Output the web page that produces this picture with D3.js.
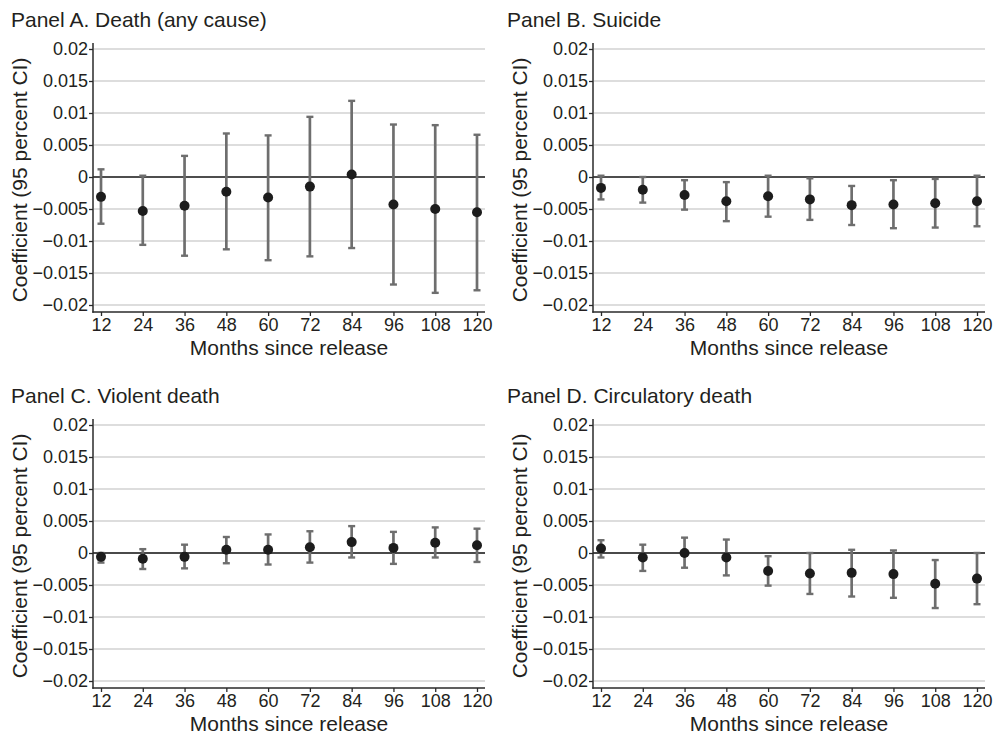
<!DOCTYPE html>
<html><head><meta charset="utf-8">
<script src="https://cdn.jsdelivr.net/npm/d3@7"></script>
<style>
body{margin:0;background:#fff;}
svg{display:block;font-family:"Liberation Sans",Arial,Helvetica,sans-serif;}
</style></head><body>
<svg id="chart" width="993" height="735"></svg>
<script>
const months = [12,24,36,48,60,72,84,96,108,120];
const yTicks = [0.02,0.015,0.01,0.005,0,-0.005,-0.01,-0.015,-0.02];
const yTickLabels = ["0.02","0.015","0.01","0.005","0","\u22120.005","\u22120.01","\u22120.015","\u22120.02"];
const panelTitles = ["Panel A. Death (any cause)","Panel B. Suicide","Panel C. Violent death","Panel D. Circulatory death"];
const xTitle = "Months since release";
const yTitle = "Coefficient (95 percent CI)";

// Panel A: death (any cause)
const deathCoef = [-0.0031,-0.0053,-0.0045,-0.0023,-0.0032,-0.0015,0.0004,-0.0043,-0.0050,-0.0055];
const deathHi   = [0.0012,0.0002,0.0033,0.0068,0.0065,0.0094,0.0119,0.0082,0.0081,0.0066];
const deathLo   = [-0.0073,-0.0106,-0.0123,-0.0113,-0.0130,-0.0124,-0.0111,-0.0168,-0.0181,-0.0177];
// Panel B: suicide
const suicideCoef = [-0.0017,-0.0020,-0.0028,-0.0038,-0.0030,-0.0035,-0.0044,-0.0043,-0.0041,-0.0038];
const suicideHi   = [0.0002,0.0000,-0.0005,-0.0008,0.0002,-0.0002,-0.0014,-0.0005,-0.0003,0.0002];
const suicideLo   = [-0.0035,-0.0040,-0.0051,-0.0069,-0.0062,-0.0067,-0.0075,-0.0080,-0.0079,-0.0077];
// Panel C: violent death
const violentCoef = [-0.0006,-0.0009,-0.0006,0.0005,0.0005,0.0009,0.0017,0.0008,0.0016,0.0012];
const violentHi   = [0.0000,0.0006,0.0013,0.0025,0.0029,0.0034,0.0042,0.0033,0.0040,0.0038];
const violentLo   = [-0.0015,-0.0025,-0.0024,-0.0016,-0.0018,-0.0015,-0.0007,-0.0017,-0.0007,-0.0014];
// Panel D: circulatory death
const circCoef = [0.0007,-0.0007,0.0000,-0.0007,-0.0028,-0.0032,-0.0031,-0.0033,-0.0048,-0.0040];
const circHi   = [0.0020,0.0013,0.0024,0.0021,-0.0005,0.0000,0.0005,0.0004,-0.0011,0.0000];
const circLo   = [-0.0007,-0.0028,-0.0023,-0.0035,-0.0051,-0.0064,-0.0068,-0.0070,-0.0086,-0.0080];

const panels = [
  {title: panelTitles[0], coef: deathCoef, lo: deathLo, hi: deathHi, ox: 0, oy: 0, tx: 11, zc: "#1e1e1e", zw: 1.5},
  {title: panelTitles[1], coef: suicideCoef, lo: suicideLo, hi: suicideHi, ox: 500, oy: 0, tx: 7, zc: "#1e1e1e", zw: 1.5},
  {title: panelTitles[2], coef: violentCoef, lo: violentLo, hi: violentHi, ox: 0, oy: 376, tx: 11, zc: "#4a4a4a", zw: 2},
  {title: panelTitles[3], coef: circCoef, lo: circLo, hi: circHi, ox: 500, oy: 376, tx: 7, zc: "#4a4a4a", zw: 2}
];

const svg = d3.select("#chart");
const textColor = "#231f20";

panels.forEach(p => {
  const g = svg.append("g").attr("transform", `translate(${p.ox},${p.oy})`);
  const x = d3.scaleLinear().domain([12,120]).range([101,477]);
  const y = d3.scaleLinear().domain([-0.02,0.02]).range([305,49]);
  const axisX = 93, rightX = 485, axisY = 312, topY = 43;

  // gridlines
  g.append("g").selectAll("line").data(yTicks).join("line")
    .attr("x1", axisX + 1).attr("x2", rightX)
    .attr("y1", d => y(d)).attr("y2", d => y(d))
    .attr("stroke", "#d2d2d2").attr("stroke-width", 1.5);
  // zero line
  g.append("line").attr("x1", axisX).attr("x2", rightX)
    .attr("y1", y(0)).attr("y2", y(0))
    .attr("stroke", p.zc).attr("stroke-width", p.zw);

  // y axis
  const ya = g.append("g").attr("transform", `translate(${axisX},0)`)
    .call(d3.axisLeft(y).tickValues(yTicks).tickSize(4).tickPadding(1)
      .tickFormat((d,i) => yTickLabels[i]));
  ya.select(".domain").remove();
  ya.selectAll(".tick line").attr("stroke", "#2a2a2a").attr("stroke-width", 1.3);
  ya.selectAll(".tick text").attr("font-size", 18).attr("fill", textColor)
    .attr("font-family", "Liberation Sans, Arial, sans-serif");

  // x axis
  const xa = g.append("g").attr("transform", `translate(0,${axisY})`)
    .call(d3.axisBottom(x).tickValues(months).tickSize(4).tickPadding(2).tickFormat(d => d));
  xa.select(".domain").remove();
  xa.selectAll(".tick line").attr("stroke", "#2a2a2a").attr("stroke-width", 1.3);
  xa.selectAll(".tick text").attr("font-size", 18).attr("fill", textColor)
    .attr("font-family", "Liberation Sans, Arial, sans-serif");

  // axis lines
  g.append("line").attr("x1", axisX).attr("x2", axisX).attr("y1", topY).attr("y2", axisY + 0.7)
    .attr("stroke", "#2a2a2a").attr("stroke-width", 1.5);
  g.append("line").attr("x1", axisX - 0.7).attr("x2", rightX).attr("y1", axisY).attr("y2", axisY)
    .attr("stroke", "#2a2a2a").attr("stroke-width", 1.5);

  // error bars
  const data = months.map((m,i) => ({m, c: p.coef[i], lo: p.lo[i], hi: p.hi[i]}));
  const eb = g.append("g").attr("stroke", "#6e6e6e");
  eb.selectAll(".bar").data(data).join("line").attr("class","bar")
    .attr("x1", d => x(d.m)).attr("x2", d => x(d.m))
    .attr("y1", d => y(d.hi)).attr("y2", d => y(d.lo)).attr("stroke-width", 2.7);
  eb.selectAll(".capHi").data(data).join("line").attr("class","capHi")
    .attr("x1", d => x(d.m) - 3.5).attr("x2", d => x(d.m) + 3.5)
    .attr("y1", d => y(d.hi)).attr("y2", d => y(d.hi)).attr("stroke-width", 2.4);
  eb.selectAll(".capLo").data(data).join("line").attr("class","capLo")
    .attr("x1", d => x(d.m) - 3.5).attr("x2", d => x(d.m) + 3.5)
    .attr("y1", d => y(d.lo)).attr("y2", d => y(d.lo)).attr("stroke-width", 2.4);

  // points
  g.append("g").selectAll("circle").data(data).join("circle")
    .attr("cx", d => x(d.m)).attr("cy", d => y(d.c)).attr("r", 5)
    .attr("fill", "#1c1c1c");

  // titles
  g.append("text").attr("x", p.tx).attr("y", 27).attr("font-size", 21).attr("fill", textColor)
    .text(p.title);
  g.append("text").attr("x", (axisX + rightX) / 2).attr("y", 354.5).attr("text-anchor", "middle")
    .attr("font-size", 21).attr("fill", textColor).text(xTitle);
  g.append("text").attr("transform", `translate(27,${(49+305)/2 + 3}) rotate(-90)`)
    .attr("text-anchor", "middle").attr("font-size", 21).attr("fill", textColor).text(yTitle);
});
</script>
</body></html>
